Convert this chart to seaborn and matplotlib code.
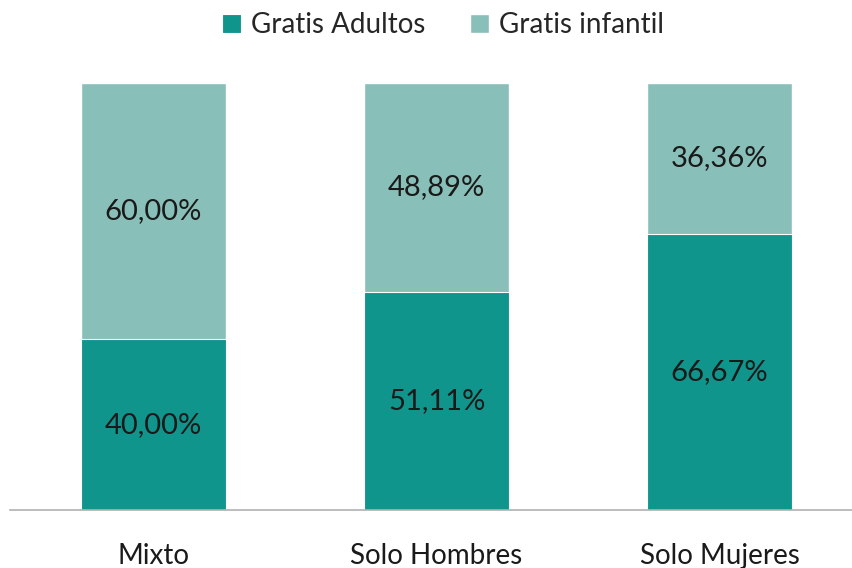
import pandas as pd
import matplotlib.pyplot as plt
import seaborn as sns

grupos = ['Mixto', 'Solo Hombres', 'Solo Mujeres']
adultos = [40.00, 51.11, 66.67]
infantil = [60.00, 48.89, 36.36]

df = pd.DataFrame({'grupo': grupos, 'adultos': adultos, 'infantil': infantil})
total = df['adultos'] + df['infantil']
df['p_adultos'] = df['adultos'] / total
df['p_total'] = 1.0

sns.set_theme(style='white')
plt.rcParams['font.family'] = ['Lato', 'DejaVu Sans']

c_adultos = '#10958d'
c_infantil = '#88bfb8'

fig = plt.figure(figsize=(8.52, 5.68), dpi=100)
ax = fig.add_axes([10 / 852, 1 - 510 / 568, 842 / 852, 427 / 568])

# barra total (infantil encima) y luego adultos encima de ella
sns.barplot(data=df, x='grupo', y='p_total', color=c_infantil, width=0.512,
            saturation=1, ax=ax, label='Gratis infantil')
sns.barplot(data=df, x='grupo', y='p_adultos', color=c_adultos, width=0.512,
            saturation=1, ax=ax, label='Gratis Adultos', edgecolor='white', linewidth=0.8)

for i, row in df.iterrows():
    ax.text(i, row['p_adultos'] / 2, f"{row['adultos']:.2f}%".replace('.', ','),
            ha='center', va='center', fontsize=21, color='#1a1a1a')
    ax.text(i, row['p_adultos'] + (1 - row['p_adultos']) / 2,
            f"{row['infantil']:.2f}%".replace('.', ','),
            ha='center', va='center', fontsize=21, color='#1a1a1a')

ax.set_xlim(-0.507, 2.468)
ax.set_ylim(0, 1)
ax.set_xlabel('')
ax.set_ylabel('')
ax.set_yticks([])
ax.tick_params(axis='x', labelsize=20, colors='#1a1a1a', pad=24, length=0)
for s in ['top', 'right', 'left']:
    ax.spines[s].set_visible(False)
ax.spines['bottom'].set_color('#b0b0b0')
ax.spines['bottom'].set_linewidth(1.2)

handles, labels = ax.get_legend_handles_labels()
ax.get_legend().remove()
order = [labels.index('Gratis Adultos'), labels.index('Gratis infantil')]
fig.legend([handles[k] for k in order], [labels[k] for k in order],
           loc='center', bbox_to_anchor=(443 / 852, 1 - 25 / 568), ncol=2,
           frameon=False, fontsize=20, handlelength=0.7, handleheight=0.7,
           handletextpad=0.35, columnspacing=1.6)

fig.savefig('out.png', dpi=100)
